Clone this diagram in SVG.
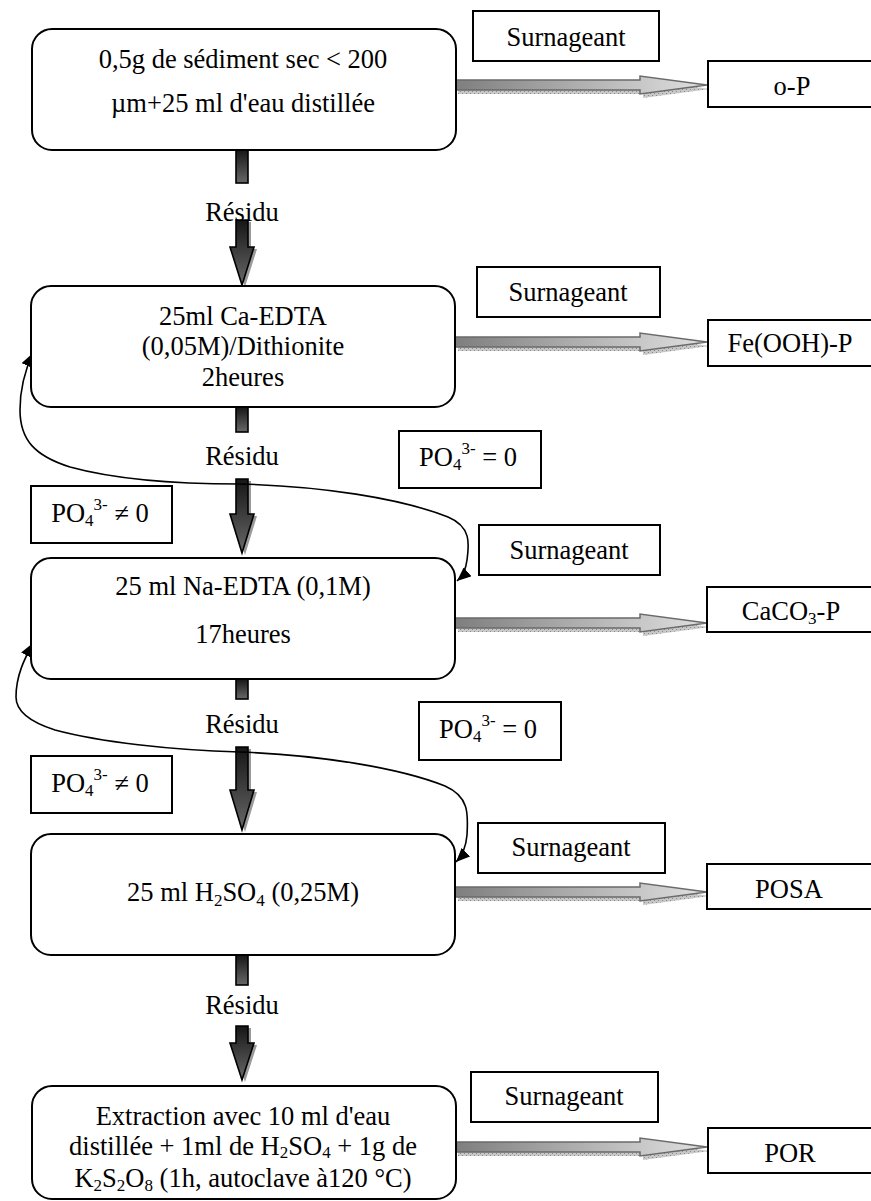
<svg xmlns="http://www.w3.org/2000/svg" width="871" height="1201" viewBox="0 0 871 1201">
<style>
.t{font-family:"Liberation Serif","Times New Roman",serif;font-size:26.5px;fill:#000}
.m{text-anchor:middle}
.s{font-size:17px}
.box{fill:#fff;stroke:#000;stroke-width:2}
.rbox{fill:#fff;stroke:#000;stroke-width:2}
.curve{fill:none;stroke:#000;stroke-width:1.6;marker-start:url(#ah);marker-end:url(#ah)}
.darr{fill:url(#dg);stroke:#000;stroke-width:1.6}
.dsh{fill:#9a9a9a}
.harr{fill:url(#hg);stroke:#6a6a6a;stroke-width:1.5}
.hsh{fill:url(#dots)}
</style>
<defs>
<linearGradient id="dg" x1="0" y1="0" x2="0" y2="1">
<stop offset="0" stop-color="#161616"/>
<stop offset="1" stop-color="#686868"/>
</linearGradient>
<linearGradient id="hg" x1="0" y1="0" x2="1" y2="0">
<stop offset="0" stop-color="#7e7e7e"/>
<stop offset="0.7" stop-color="#c4c4c4"/>
<stop offset="1" stop-color="#e0e0e0"/>
</linearGradient>
<pattern id="dots" width="4" height="4" patternUnits="userSpaceOnUse">
<rect width="4" height="4" fill="#c8c8c8"/>
<rect width="1" height="1" fill="#8a8a8a"/>
<rect x="2" y="2" width="1" height="1" fill="#8a8a8a"/>
</pattern>
<marker id="ah" viewBox="0 0 14 12" refX="14" refY="6" markerWidth="14" markerHeight="12" markerUnits="userSpaceOnUse" orient="auto-start-reverse">
<path d="M0,0 L14,6 L0,12 Z" fill="#000"/>
</marker>
<path id="ha" d="M0,-5 H185 V-9 L252,0 L185,9 V5 H0 Z"/>
</defs>

<g id="connectors">
<use href="#ha" class="hsh" transform="translate(458,89)"/>
<use href="#ha" class="harr" transform="translate(455,85)"/>
<use href="#ha" class="hsh" transform="translate(458,346)"/>
<use href="#ha" class="harr" transform="translate(455,342)"/>
<use href="#ha" class="hsh" transform="translate(458,627)"/>
<use href="#ha" class="harr" transform="translate(455,623)"/>
<use href="#ha" class="hsh" transform="translate(458,896)"/>
<use href="#ha" class="harr" transform="translate(455,892)"/>
<use href="#ha" class="hsh" transform="translate(458,1151)"/>
<use href="#ha" class="harr" transform="translate(455,1147)"/>

<rect class="darr" x="236" y="150" width="12" height="33"/>
<path class="dsh" d="M239,222 H251 V249 H257 L245,287 L233,249 H239 Z"/>
<path class="darr" d="M236,220 H248 V247 H254 L242,285 L230,247 H236 Z"/>

<rect class="darr" x="236" y="407" width="12" height="25"/>
<path class="dsh" d="M239,481 H251 V516 H257 L245,555 L233,516 H239 Z"/>
<path class="darr" d="M236,479 H248 V514 H254 L242,553 L230,514 H236 Z"/>

<rect class="darr" x="236" y="679" width="12" height="20"/>
<path class="dsh" d="M239,749 H251 V792 H257 L245,832 L233,792 H239 Z"/>
<path class="darr" d="M236,747 H248 V790 H254 L242,830 L230,790 H236 Z"/>

<rect class="darr" x="236" y="955" width="12" height="30"/>
<path class="dsh" d="M239,1028 H251 V1045 H257 L245,1082 L233,1045 H239 Z"/>
<path class="darr" d="M236,1026 H248 V1043 H254 L242,1080 L230,1043 H236 Z"/>

<path class="curve" d="M33,353 C 26,368 20,385 20,410 C 20,440 35,456 70,467 C 110,478 170,484 240,484 C 320,486 400,498 448,517 C 472,527 469,545 467,560 C 466,568 464,575 457,581"/>
<path class="curve" d="M33,643 C 25,658 16,675 16,697 C 16,712 30,722 55,730 C 100,742 170,750 240,752 C 320,755 400,768 445,786 C 470,797 468,815 467,835 C 466,847 463,855 456,862"/>
</g>

<g id="step1">
<rect class="rbox" x="32" y="29" width="424" height="121" rx="20"/>
<text class="t m" x="243" y="68">0,5g de sédiment sec &lt; 200</text>
<text class="t m" x="243" y="112">µm+25 ml d'eau distillée</text>
</g>
<g id="step2">
<rect class="rbox" x="31" y="286" width="424" height="121" rx="20"/>
<text class="t m" x="243" y="325">25ml Ca-EDTA</text>
<text class="t m" x="243" y="355">(0,05M)/Dithionite</text>
<text class="t m" x="243" y="386">2heures</text>
</g>
<g id="step3">
<rect class="rbox" x="31" y="558" width="424" height="121" rx="20"/>
<text class="t m" x="243" y="595">25 ml Na-EDTA (0,1M)</text>
<text class="t m" x="243" y="643">17heures</text>
</g>
<g id="step4">
<rect class="rbox" x="31" y="834" width="424" height="121" rx="20"/>
<text class="t m" x="243" y="901">25 ml H<tspan class="s" dy="5">2</tspan><tspan dy="-5">SO</tspan><tspan class="s" dy="5">4</tspan><tspan dy="-5"> (0,25M)</tspan></text>
</g>
<g id="step5">
<rect class="rbox" x="32" y="1086" width="424" height="113" rx="20"/>
<text class="t m" x="243" y="1125">Extraction avec 10 ml d'eau</text>
<text class="t m" x="243" y="1155">distillée + 1ml de H<tspan class="s" dy="3">2</tspan><tspan dy="-3">SO</tspan><tspan class="s" dy="3">4</tspan><tspan dy="-3"> + 1g de</tspan></text>
<text class="t m" x="243" y="1187">K<tspan class="s" dy="4">2</tspan><tspan dy="-4">S</tspan><tspan class="s" dy="4">2</tspan><tspan dy="-4">O</tspan><tspan class="s" dy="4">8</tspan><tspan dy="-4"> (1h, autoclave à120 °C)</tspan></text>
</g>

<g id="residu-labels">
<text class="t m" x="242" y="221">Résidu</text>
<text class="t m" x="242" y="465">Résidu</text>
<text class="t m" x="242" y="733">Résidu</text>
<text class="t m" x="242" y="1014">Résidu</text>
</g>

<g id="surnageant1"><rect class="box" x="473" y="11" width="186" height="50"/><text class="t m" x="566" y="46">Surnageant</text></g>
<g id="surnageant2"><rect class="box" x="477" y="267" width="183" height="50"/><text class="t m" x="568" y="301">Surnageant</text></g>
<g id="surnageant3"><rect class="box" x="479" y="525" width="181" height="50"/><text class="t m" x="569" y="559">Surnageant</text></g>
<g id="surnageant4"><rect class="box" x="478" y="823" width="187" height="50"/><text class="t m" x="571" y="856">Surnageant</text></g>
<g id="surnageant5"><rect class="box" x="471" y="1072" width="187" height="50"/><text class="t m" x="564" y="1105">Surnageant</text></g>

<g id="result-oP"><rect class="box" x="708" y="61" width="172" height="46"/><text class="t m" x="792" y="95">o-P</text></g>
<g id="result-FeOOHP"><rect class="box" x="708" y="320" width="172" height="46"/><text class="t m" x="790" y="352">Fe(OOH)-P</text></g>
<g id="result-CaCO3P"><rect class="box" x="707" y="587" width="172" height="45"/><text class="t m" x="791" y="620">CaCO<tspan class="s" dy="4">3</tspan><tspan dy="-4">-P</tspan></text></g>
<g id="result-POSA"><rect class="box" x="707" y="864" width="172" height="45"/><text class="t m" x="789" y="898">POSA</text></g>
<g id="result-POR"><rect class="box" x="708" y="1128" width="172" height="45"/><text class="t m" x="790" y="1162">POR</text></g>

<g id="cond-ne-1"><rect class="box" x="31" y="486" width="141" height="57"/><text class="t m" x="100" y="522">PO<tspan class="s" dy="4">4</tspan><tspan class="s" dy="-16">3-</tspan><tspan dy="12"> ≠ 0</tspan></text></g>
<g id="cond-eq-1"><rect class="box" x="399" y="431" width="142" height="57"/><text class="t m" x="468" y="466">PO<tspan class="s" dy="4">4</tspan><tspan class="s" dy="-16">3-</tspan><tspan dy="12"> = 0</tspan></text></g>
<g id="cond-ne-2"><rect class="box" x="31" y="756" width="141" height="57"/><text class="t m" x="100" y="792">PO<tspan class="s" dy="4">4</tspan><tspan class="s" dy="-16">3-</tspan><tspan dy="12"> ≠ 0</tspan></text></g>
<g id="cond-eq-2"><rect class="box" x="419" y="702" width="142" height="58"/><text class="t m" x="488" y="738">PO<tspan class="s" dy="4">4</tspan><tspan class="s" dy="-16">3-</tspan><tspan dy="12"> = 0</tspan></text></g>
</svg>
